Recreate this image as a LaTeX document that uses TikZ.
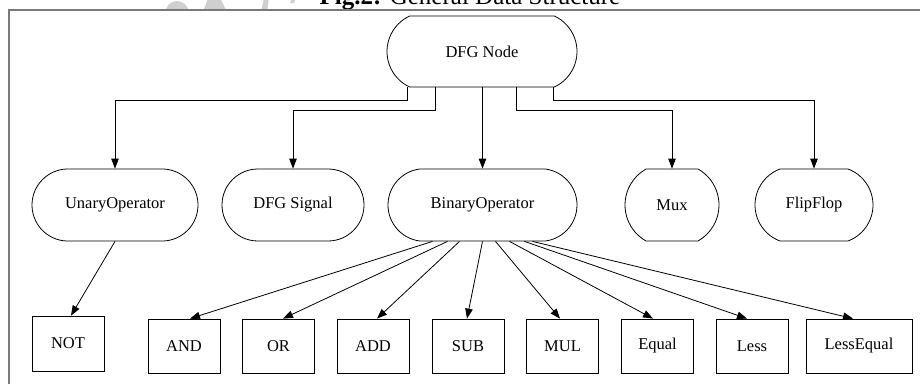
\documentclass[tikz,border=0pt]{standalone}
\usepackage{fontspec}
\setmainfont{Liberation Serif}
\usetikzlibrary{shapes.misc,arrows.meta,calc}

\definecolor{framegray}{HTML}{7A7A7A}
\definecolor{markgray}{HTML}{CFCFCF}

\tikzset{
  lbl/.style={font=\fontsize{16.5}{19}\selectfont, text=black},
  roundnode/.style={lbl, draw=black, line width=0.8pt, rounded rectangle,
    minimum height=72pt, inner sep=0pt},
  opbox/.style={lbl, draw=black, line width=0.8pt, rectangle,
    minimum height=54pt, minimum width=72pt, inner sep=0pt},
  link/.style={draw=black, line width=0.8pt, -{Triangle[length=10pt,width=7.5pt]}},
  plain/.style={draw=black, line width=0.8pt},
}

\begin{document}
\begin{tikzpicture}[x=1pt,y=-1pt]
  \useasboundingbox (0,0) rectangle (920,384);

  % faint marks above the frame
  \begin{scope}
    \clip (0,0) rectangle (920,9.5);
    \fill[markgray] (177,14) ellipse (12 and 13);
    \fill[markgray] (203,12) -- (208,-2) -- (220,-2) -- (227,12) -- cycle;
    \fill[markgray] (261,12) -- (264,-2) -- (269,-2) -- (267,12) -- cycle;
    \fill[markgray] (290,3) -- (292,-2) -- (296,-2) -- (294,3) -- cycle;
  \end{scope}

  % caption, cut by the page edge
  \node[anchor=base, font=\fontsize{25}{28}\selectfont, inner sep=0pt] (caption)
    at (470,4.5) {\textbf{Fig.2:} General Data Structure};

  % outer frame
  \draw[framegray, line width=1.5pt] (9,384) -- (9,10) -- (921,10);

  % top node
  \node[roundnode, minimum width=190pt, rounded rectangle arc length=130,
        minimum height=71pt] (dfg) at (482,51.5) {DFG Node};

  % second row
  \node[roundnode, minimum width=166pt, rounded rectangle arc length=175]
    (unary) at (115,205) {UnaryOperator};
  \node[roundnode, minimum width=142pt, rounded rectangle arc length=178]
    (signal) at (293,205) {DFG Signal};
  \node[roundnode, minimum width=189pt, rounded rectangle arc length=166]
    (bin) at (482.5,205) {BinaryOperator};
  \node[roundnode, minimum width=94pt, rounded rectangle arc length=121]
    (mux) at (672,205) {Mux};
  \node[roundnode, minimum width=118pt, rounded rectangle arc length=139]
    (ff) at (814,205) {FlipFlop};

  % third row
  \node[opbox, minimum height=55pt] (not) at (68,343.5) {NOT};
  \node[opbox] (and)  at (184,346)   {AND};
  \node[opbox] (or)   at (278.5,346) {OR};
  \node[opbox] (add)  at (373,346)   {ADD};
  \node[opbox] (sub)  at (468,346)   {SUB};
  \node[opbox] (mul)  at (562.5,346) {MUL};
  \node[opbox] (eq)   at (657.5,346) {Equal};
  \node[opbox] (less) at (752,346)   {Less};
  \node[opbox, minimum width=106pt] (leq) at (859,346) {LessEqual};

  % DFG Node to its kinds
  \draw[link] ($(dfg.south)+(-75,0)$) -- ++(0,13) -| (unary.north);
  \draw[link] ($(dfg.south)+(-47,0)$) -- ++(0,23) -| (signal.north);
  \draw[link] ($(dfg.south)+(0.5,0)$) -- (bin.north);
  \draw[link] ($(dfg.south)+(34,0)$) -- ++(0,23) -| (mux.north);
  \draw[link] ($(dfg.south)+(71,0)$) -- ++(0,13) -| (ff.north);

  % unary operator
  \draw[link] (unary.south) -- ($(not.north)+(3,0)$);

  % binary operators
  \draw[link] ($(bin.south)+(-50,0)$) -- ($(and.north)+(6,0)$);
  \draw[link] ($(bin.south)+(-35,0)$) -- ($(or.north)+(4.5,0)$);
  \draw[link] ($(bin.south)+(-23,0)$) -- ($(add.north)+(4,0)$);
  \draw[link] ($(bin.south)+(0,0)$)   -- ($(sub.north)+(-1,0)$);
  \draw[link] ($(bin.south)+(13,0)$)  -- ($(mul.north)+(-2.5,0)$);
  \draw[link] ($(bin.south)+(27,0)$)  -- ($(eq.north)+(-4.5,0)$);
  \draw[link] ($(bin.south)+(42,0)$)  -- ($(less.north)+(-5,0)$);
  \draw[link] ($(bin.south)+(50,0)$)  -- ($(leq.north)+(-6,0)$);
\end{tikzpicture}
\end{document}
